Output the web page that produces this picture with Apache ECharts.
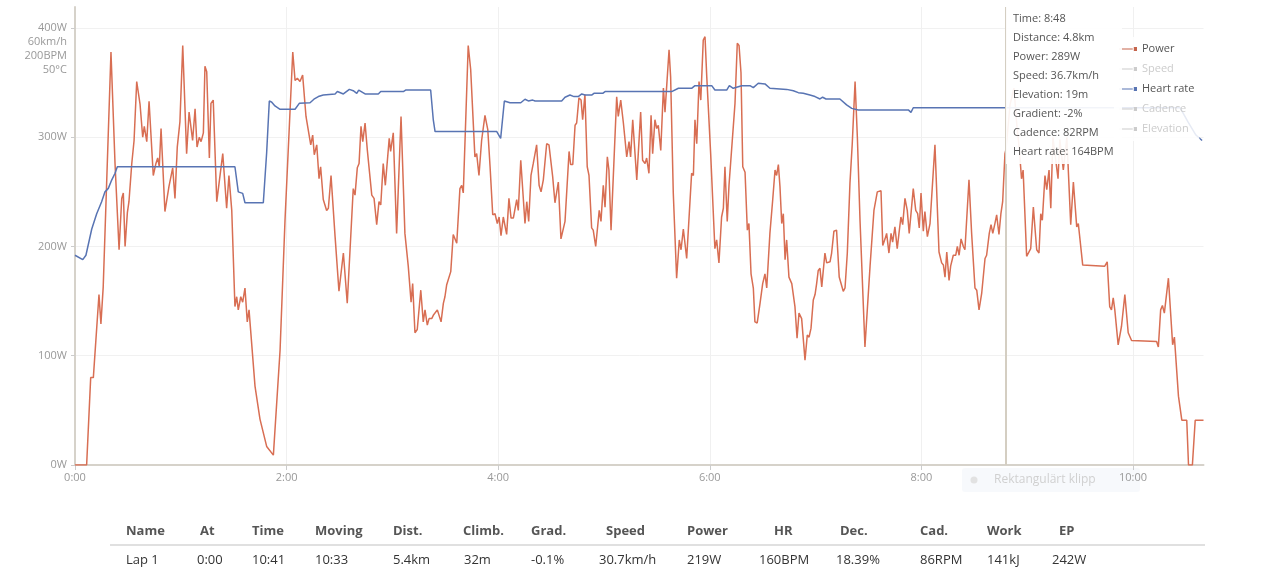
<!DOCTYPE html>
<html><head><meta charset="utf-8">
<script src="https://cdn.jsdelivr.net/npm/echarts@6/dist/echarts.min.js"></script>
<style>
html,body{margin:0;padding:0;background:#fff;}
#chart{position:absolute;left:0;top:0;width:1275px;height:575px;}
#laps{position:absolute;left:0;top:0;width:1275px;height:575px;pointer-events:none;font-family:'Open Sans',sans-serif;font-size:13px;}
.cell{position:absolute;white-space:nowrap;line-height:18px;}
.hd{font-weight:700;color:#555;top:521px;}
.dv{color:#333;top:550px;}
.sep{position:absolute;left:110px;top:544px;width:1095px;height:2px;background:#e0e0e0;}
</style></head><body>
<div id="chart"></div>
<div id="laps"></div>
<script>
// ---- data (time in seconds) ----
const powerTime = [0,6.6,8.9,10.4,13.6,14.7,16.0,20.4,22.7,25.0,26.5,27.4,28.4,29.7,30.6,32.2,33.5,35.0,36.9,38.4,39.3,40.7,42.0,44.4,45.9,46.9,47.8,48.8,51.0,53.3,55.4,56.7,58.0,59.5,61.1,63.3,64.7,66.7,68.1,69.2,70.5,71.5,72.8,73.7,74.7,76.2,77.1,78.4,80.4,83.8,86.0,87.3,88.9,90.7,91.7,92.6,94.0,95.1,96.4,97.7,98.7,102.1,104.9,108.7,112.5,116.3,119.1,123.5,124.8,126.1,127.6,129.1,131.0,133.7,134.8,135.7,137.1,138.4,139.3,140.8,142.7,143.7,145.2,147.5,149.7,152.2,154.4,157.8,158.8,160.1,161.1,162.2,163.2,164.5,165.8,166.7,168.3,169.6,171.1,172.4,173.4,174.8,176.0,178.2,179.0,180.5,182.4,184.9,187.1,189.0,190.6,191.5,192.8,194.1,196.1,197.5,198.5,199.8,200.8,202.3,203.2,204.2,205.5,207.6,208.9,209.8,210.8,213.1,214.5,216.5,218.3,219.3,220.2,223.0,224.4,226.8,227.8,229.1,230.6,232.5,234.1,235.4,236.9,238.2,239.5,240.5,241.6,242.9,243.9,244.8,246.1,247.3,248.6,250.5,251.4,252.8,255.2,256.2,257.3,258.6,259.9,261.8,263.2,264.3,265.6,267.5,268.8,270.9,272.2,274.1,275.6,277.9,280.2,281.1,282.3,283.6,284.5,285.8,287.0,287.9,289.2,290.5,291.5,293.0,293.9,295.3,295.9,297.3,298.3,299.6,300.6,301.9,302.8,304.0,307.2,308.1,309.5,311.0,312.9,314.2,315.1,316.3,318.6,320.8,321.9,323.3,324.2,325.5,326.7,327.6,328.9,329.9,330.8,332.2,333.7,334.6,336.9,337.8,339.3,341.2,342.7,343.7,345.0,346.9,349.7,350.7,351.6,352.6,353.9,354.9,356.3,357.3,358.3,360.5,362.9,363.9,365.2,366.7,367.7,368.6,369.9,370.9,371.9,374.3,375.6,376.6,377.7,378.7,380.0,381.3,382.2,383.4,384.7,385.6,386.9,388.5,390.0,391.3,392.3,394.1,395.7,397.0,397.9,398.9,399.8,400.8,401.7,402.7,403.6,404.9,406.5,408.3,409.5,410.6,412.1,413.0,414.0,415.3,416.3,417.4,418.7,419.7,420.6,421.5,422.5,423.5,425.3,426.3,428.2,429.1,430.4,431.9,433.4,434.2,435.7,436.7,438.0,439.5,440.8,442.4,443.7,445.2,448.0,450.9,453.1,455.0,457.1,458.1,459.4,460.3,461.6,462.8,463.7,465.0,466.3,467.3,468.4,469.4,470.7,472.0,473.1,474.1,475.4,476.8,477.9,478.8,479.8,481.1,482.0,483.4,484.9,487.7,490.0,491.5,492.5,493.4,494.4,495.7,496.6,498.1,499.5,500.4,501.4,502.5,503.8,504.7,507.0,508.5,510.4,511.4,512.7,514.2,516.1,517.0,518.5,519.5,520.5,521.7,522.7,524.0,525.1,526.1,527.4,528,530.3,532.5,534.2,535.5,536.8,537.7,539.7,542.0,543.5,544.4,545.4,546.7,547.7,548.6,550.1,551.1,552.4,553.4,554.6,557.5,558.5,560.5,562.5,564.7,566.2,568.1,569.0,571.5,584.0,585.4,586.8,587.8,588.8,589.7,591.6,593.5,595.4,597.3,599.2,613.4,614.4,615.7,616.7,617.8,620.1,622.5,623.5,625.8,627.7,630.5,631.5,633.7,635.3,640];
const powerWatts = [0,0,80,80,156,129,163,378,276,197,244,249,200,231,241,276,297,351,330,300,310,296,333,265,276,281,273,308,232,255,272,244,291,314,384,285,323,297,326,291,300,296,304,365,360,281,331,334,241,285,235,265,233,145,154,142,154,149,162,131,142,72,42,17,9,105,224,378,352,354,351,357,319,293,302,284,293,262,273,243,233,235,265,209,159,194,148,253,247,272,276,310,296,313,288,287,247,244,220,241,238,276,256,299,287,304,212,319,212,182,149,166,121,124,160,131,142,128,134,134,137,136,142,131,148,154,165,177,211,203,253,256,249,384,362,282,285,265,297,320,307,273,229,230,221,227,210,227,227,211,244,226,226,243,233,279,221,241,223,265,276,293,256,250,261,294,293,264,240,259,207,223,287,275,275,311,313,336,334,316,339,273,265,217,215,200,201,233,223,256,236,282,270,215,337,319,334,313,282,296,282,316,261,323,279,276,281,267,320,285,316,308,311,288,345,323,380,355,249,171,206,197,216,189,267,265,316,294,351,334,389,392,355,285,198,206,185,227,235,273,223,256,255,331,386,384,359,273,268,215,221,175,162,131,130,148,166,175,162,212,243,270,265,275,255,221,230,188,206,172,166,145,116,139,134,134,96,119,117,125,151,156,166,178,180,163,194,185,186,194,214,215,172,171,159,162,194,258,294,351,300,224,108,182,233,250,251,201,207,212,194,212,204,218,198,212,227,220,244,233,212,212,253,233,230,217,249,214,232,209,221,293,195,185,183,172,195,169,182,192,192,200,192,207,200,197,261,212,162,160,142,157,189,192,212,220,212,221,229,211,230,241,285,289,330,345,310,290,262,270,191,198,236,236,197,194,230,224,265,252,270,235,300,262,298,270,300,220,259,218,221,183,182,186,145,142,153,142,110,127,156,121,114,113,108,142,146,139,171,110,117,63,41,41,0,0,41,41];

const hrTime = [0,4.4,6.2,9.5,12.3,15.1,17.0,18.9,20.8,22.7,24.0,90.7,92.6,95.1,96.4,106.8,108.7,110.2,111.6,113.4,116.3,124.8,127.2,133.3,135.5,138.0,140.8,141.8,147.5,148.8,152.2,155.6,157.8,159.8,160.9,164.5,172.0,173.4,186.2,187.5,201.7,203.2,204.2,239.2,241.4,243.5,246.7,252.8,255.2,257.1,259.6,260.9,276.0,277.9,280.7,283.0,285.4,287.4,289.2,293.0,294.3,299.3,300.6,338.4,342.2,349.7,351.6,361.1,362.9,369.6,371.1,373.3,378.1,382.8,384.7,387.5,391.3,394.1,403.6,407.4,410.2,413.0,416.8,419.7,422.5,424.0,425.9,433.8,437.6,440.5,444.2,472.6,474.1,475.4,626.7,631.2,635.7,639.2];
const hrBpm = [96,94,96,108,115,120.5,125,126.6,130.4,133.5,136.5,136.5,125,124.3,120,120,143,166.6,166,164.3,162.8,162.8,165.5,165.8,167.4,168.6,169.3,169.8,169.8,170.9,169.8,171.9,171.3,170.1,171.6,169.8,169.8,170.9,170.9,171.6,171.6,157.9,152.6,152.6,149.5,166.6,165.8,165.8,167.4,166.6,167,166.6,166.6,168.3,169.3,168.6,168.6,169.8,169.3,169.3,170.1,170.1,170.9,170.9,172.4,172.4,173.6,173.6,171.6,171.6,173.6,172.4,173.6,173.6,172.7,174.7,174.4,172.4,171.9,171.3,170.4,170.1,169.3,168.6,167.5,168.3,167.5,167.5,164.8,163.2,162.5,162.5,161.4,163.5,163.5,157,151,148.5];

const timeTicks = [0,120,240,360,480,600];
const powerTicks = [0,100,200,300,400];
const extraAxisLabels = ['60km/h','200BPM','50°C'];
const seriesNames = ['Power','Speed','Heart rate','Cadence','Elevation'];

// hovered point (tooltip)
const hoverTime = 528;
const tipDistance = '4.8km';
const tipSpeed = '36.7km/h';
const tipElevation = '19m';
const tipGradient = '-2%';
const tipCadence = '82RPM';

// lap table
const lapHeaders = ['Name','At','Time','Moving','Dist.','Climb.','Grad.','Speed','Power','HR','Dec.','Cad.','Work','EP'];
const lapValues = ['Lap 1','0:00','10:41','10:33','5.4km','32m','-0.1%','30.7km/h','219W','160BPM','18.39%','86RPM','141kJ','242W'];

// ---- layout (not data) ----
const headLeft = [126,200,252,315,393,463,531,606,687,774,840,920,987,1059];
const valLeft  = [126,197,252,315,393,464,531,599,687,759,836,920,987,1052];

function fmtTime(s){ const m=Math.floor(s/60); const ss=Math.round(s-m*60); return m+':'+(ss<10?'0':'')+ss; }
function hrAt(t){ let v = hrBpm[0]; for(let i=0;i<hrTime.length;i++){ if(hrTime[i]<=t) v=hrBpm[i]; } return v; }

// table
const laps = document.getElementById('laps');
let html = '<div class="sep"></div>';
lapHeaders.forEach((h,i)=>{ html += '<div class="cell hd" style="left:'+headLeft[i]+'px">'+h+'</div>'; });
lapValues.forEach((v,i)=>{ html += '<div class="cell dv" style="left:'+valLeft[i]+'px">'+v+'</div>'; });
laps.innerHTML = html;

const FONT = 'Open Sans';
const powerData = powerTime.map((t,i)=>[t, powerWatts[i]]);
const hrData = hrTime.map((t,i)=>[t, hrBpm[i]]);
const POWER_C = '#c5644c';
const HR_C = '#5874b3';
const legendIcon = 'path://M0,2.5 L13,2.5 L13,3.5 L0,3.5 Z M14,1 L17,1 L17,5 L14,5 Z';

const chart = echarts.init(document.getElementById('chart'), null, {renderer:'canvas'});
const extraGraphics = extraAxisLabels.map((txt,i)=>({
  type:'text', x:67, y:42 + i*14, silent:true,
  style:{text:txt, fill:'#999', font:'11px "Open Sans"', textAlign:'right', textVerticalAlign:'middle', align:'right', verticalAlign:'middle'}
}));

chart.setOption({
  animation:false,
  backgroundColor:'#fff',
  textStyle:{fontFamily:FONT},
  grid:{left:75, right:71.5, top:7, bottom:110, containLabel:false},
  xAxis:{
    type:'value', min:0, max:640,
    axisLine:{show:true, onZero:false, lineStyle:{color:'#d6d2ca', width:2}},
    axisTick:{show:true, length:5, customValues:timeTicks, lineStyle:{color:'#ccc'}},
    axisLabel:{customValues:timeTicks, formatter:v=>fmtTime(v), color:'#999', fontSize:11, fontFamily:FONT, margin:7},
    splitLine:{show:true, lineStyle:{color:'#f0f0f0'}}
  },
  yAxis:[{
    type:'value', min:0, max:419.2,
    axisLine:{show:true, lineStyle:{color:'#d6d2ca', width:2}},
    axisTick:{show:true, length:4, customValues:powerTicks, lineStyle:{color:'#ccc'}},
    axisLabel:{customValues:powerTicks, formatter:v=>v+'W', color:'#999', fontSize:11, fontFamily:FONT, margin:8},
    splitLine:{show:true, lineStyle:{color:'#f1f1f1'}}
  },{
    type:'value', min:0, max:209.6, show:false
  }],
  legend:{
    data:seriesNames.map(n=>({name:n, icon:legendIcon})), orient:'vertical', left:1114, top:37,
    itemWidth:18, itemHeight:6, itemGap:6, padding:5,
    backgroundColor:'rgba(255,255,255,0.85)',
    textStyle:{color:'#555', fontSize:11, fontFamily:FONT, lineHeight:14},
    inactiveColor:'#ccc',
    selected:{'Speed':false,'Cadence':false,'Elevation':false}
  },
  tooltip:{
    trigger:'axis', triggerOn:'none', alwaysShowContent:true, transitionDuration:0,
    backgroundColor:'rgba(255,255,255,0.92)', borderWidth:0, padding:[4,8,4,7],
    extraCssText:'box-shadow:none;border-radius:0;',
    textStyle:{color:'#555', fontSize:11, fontFamily:FONT},
    axisPointer:{type:'line', animation:false, lineStyle:{color:'#d4cec2', width:2, type:'solid'}},
    position:function(pt){ return [pt[0], 4]; },
    formatter:function(params){
      let p = null, t = hoverTime;
      params.forEach(q=>{
        if(q.seriesName==='Power'){ p=q.value[1]; t=q.value[0]; }
      });
      const lines = [
        'Time: '+fmtTime(t),
        'Distance: '+tipDistance,
        'Power: '+Math.round(p)+'W',
        'Speed: '+tipSpeed,
        'Elevation: '+tipElevation,
        'Gradient: '+tipGradient,
        'Cadence: '+tipCadence,
        'Heart rate: '+Math.round(hrAt(t))+'BPM'
      ];
      return '<div style="line-height:19px;font-family:\'Open Sans\';font-size:11px;color:#555">'+lines.join('<br/>')+'</div>';
    }
  },
  graphic:extraGraphics.concat([
    {type:'rect', silent:true, shape:{x:962,y:468,width:178,height:24,r:3}, style:{fill:'rgba(238,242,248,0.45)'}},
    {type:'circle', silent:true, shape:{cx:974,cy:480,r:3.5}, style:{fill:'#e2e2e2'}},
    {type:'text', silent:true, x:994, y:480, style:{text:'Rektangulärt klipp', fill:'#d0d0d0', font:'12px "Open Sans"', textVerticalAlign:'middle', verticalAlign:'middle'}}
  ]),
  series:[
    {name:'Power', type:'line', data:powerData, yAxisIndex:0, showSymbol:false, symbol:'none', lineStyle:{color:POWER_C, width:1.5}, itemStyle:{color:POWER_C}, z:2},
    {name:'Speed', type:'line', data:[], showSymbol:false, symbol:'none', lineStyle:{color:'#9bc56b'}, itemStyle:{color:'#9bc56b'}},
    {name:'Heart rate', type:'line', data:hrData, yAxisIndex:1, showSymbol:false, symbol:'none', lineStyle:{color:HR_C, width:1.5}, itemStyle:{color:HR_C}, z:3},
    {name:'Cadence', type:'line', data:[], showSymbol:false, symbol:'none', lineStyle:{color:'#6cc0d8'}, itemStyle:{color:'#6cc0d8'}},
    {name:'Elevation', type:'line', data:[], showSymbol:false, symbol:'none', lineStyle:{color:'#aaaaaa'}, itemStyle:{color:'#aaaaaa'}}
  ]
});

const hoverIndex = powerTime.indexOf(hoverTime);
chart.dispatchAction({type:'showTip', seriesIndex:0, dataIndex:hoverIndex});
</script></body></html>
